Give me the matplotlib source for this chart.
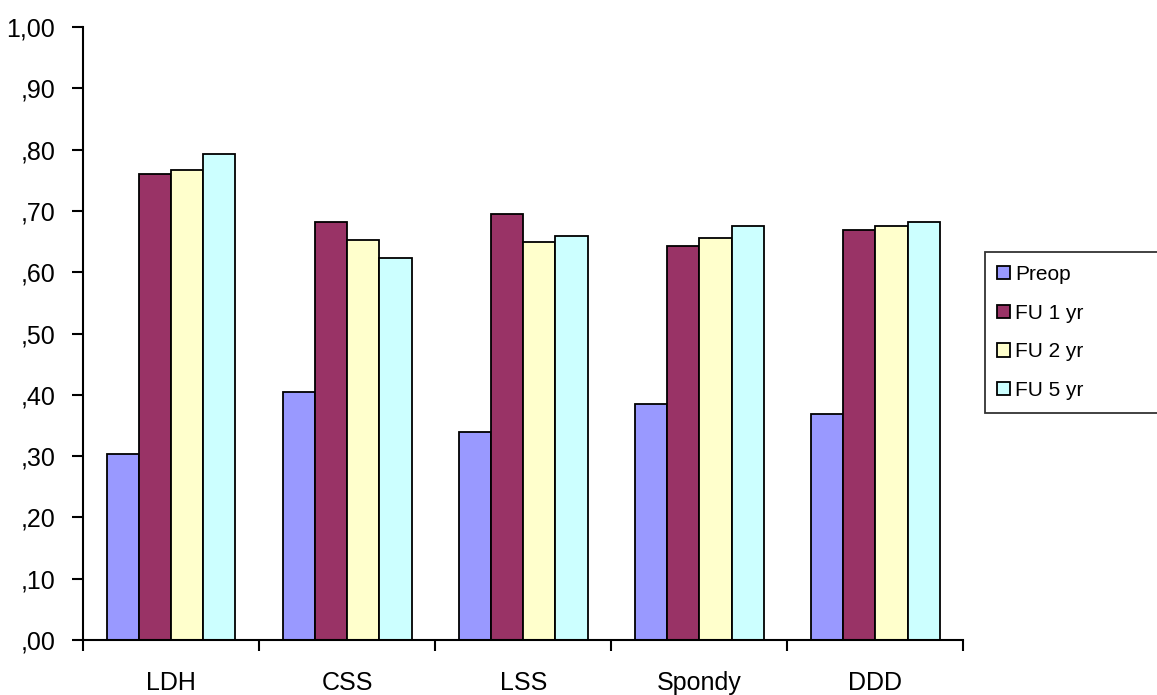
import numpy as np
import matplotlib.pyplot as plt
from matplotlib.ticker import FixedLocator, FuncFormatter

plt.rcParams['font.family'] = ['Liberation Sans', 'DejaVu Sans']

categories = ['LDH', 'CSS', 'LSS', 'Spondy', 'DDD']
series = ['Preop', 'FU 1 yr', 'FU 2 yr', 'FU 5 yr']
preop = [0.303, 0.405, 0.339, 0.385, 0.369]
fu1 = [0.760, 0.682, 0.695, 0.643, 0.669]
fu2 = [0.767, 0.653, 0.649, 0.656, 0.675]
fu5 = [0.793, 0.623, 0.659, 0.675, 0.682]
colors = ['#9999FF', '#993366', '#FFFFCC', '#CCFFFF']

values = [preop, fu1, fu2, fu5]

fig = plt.figure(figsize=(11.57, 6.95), dpi=100)
ax = fig.add_axes([0.0717, 0.0791, 0.761, 0.882])

x = np.arange(len(categories))
bw = 0.183
for i, (vals, lab, c) in enumerate(zip(values, series, colors)):
    ax.bar(x + (i - 1.5) * bw, vals, width=bw, color=c, edgecolor='k',
           linewidth=1.3, label=lab)

ax.set_xlim(-0.5, len(categories) - 0.5)
ax.set_ylim(0, 1.0)

ax.spines['top'].set_visible(False)
ax.spines['right'].set_visible(False)
ax.spines['left'].set_linewidth(1.5)
ax.spines['bottom'].set_linewidth(1.5)

ax.set_yticks(np.arange(0, 1.01, 0.1))
def fmt(v, pos):
    s = '%.2f' % v
    if s.startswith('0'):
        s = s[1:]
    return s.replace('.', ',')
ax.yaxis.set_major_formatter(FuncFormatter(fmt))
ax.tick_params(axis='y', length=8, width=1.5, pad=12, labelsize=18)

ax.xaxis.set_major_locator(FixedLocator(np.arange(-0.5, len(categories), 1.0)))
ax.xaxis.set_minor_locator(FixedLocator(x))
ax.xaxis.set_major_formatter(FuncFormatter(lambda v, p: ''))
ax.set_xticklabels(categories, minor=True)
ax.tick_params(axis='x', which='major', length=8, width=1.5)
ax.tick_params(axis='x', which='minor', length=0, pad=22, labelsize=18)

leg = fig.legend(loc='upper left', bbox_to_anchor=(0.851, 0.401, 0.17, 0.236),
                 mode='expand', fontsize=15,
                 frameon=True, fancybox=False, handlelength=0.6, handleheight=0.6,
                 handletextpad=0.25, labelspacing=0.95, borderpad=0.6,
                 borderaxespad=0)
leg.get_frame().set_edgecolor('k')
leg.get_frame().set_linewidth(1.3)

fig.savefig('out.png', dpi=100)
plt.close()
